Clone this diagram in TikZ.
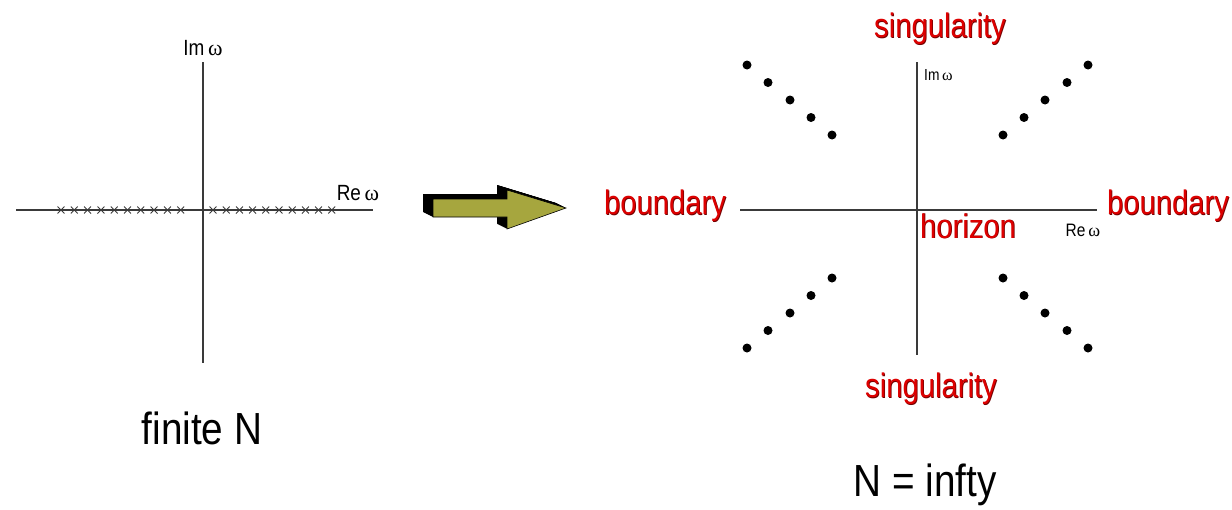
\documentclass[tikz,border=0pt]{standalone}
\usepackage{fontspec}
\setmainfont[FakeStretch=0.86]{Liberation Sans}
\newfontfamily\omegafont{Liberation Serif}
\usetikzlibrary{shapes.misc}
\definecolor{axisgray}{HTML}{3A3A3A}
\definecolor{olivefill}{HTML}{A6A63E}
\definecolor{redmain}{HTML}{DD0000}
\definecolor{redshadow}{HTML}{700000}
\tikzset{
  axis/.style={draw=axisgray, line width=1.2pt},
  pole/.style={cross out, draw=axisgray, line width=0.9pt, minimum size=6pt, inner sep=0pt},
  qnm/.style={circle, fill=black, inner sep=0pt, minimum size=9pt},
  lbl/.style={inner sep=0pt, text=black},
  bigred/.style={inner sep=0pt, text=redmain, font=\fontsize{34}{36}\selectfont},
  bigredshadow/.style={inner sep=0pt, text=redshadow, font=\fontsize{34}{36}\selectfont},
}
\begin{document}
\begin{tikzpicture}[x=1pt, y=-1pt]
\useasboundingbox (0,0) rectangle (1232,509);
% ---------- left plane ----------
\coordinate (LxL) at (16,210);
\coordinate (LxR) at (373,210);
\coordinate (LyT) at (203,62);
\coordinate (LyB) at (203,363);
\draw[axis] (LxL) -- (LxR);
\draw[axis] (LyT) -- (LyB);
\foreach \i in {0,...,9} {
  \node[pole] (pl\i) at ({61+13.3*\i},210) {};
  \node[pole] (pr\i) at ({213+13.2*\i},210) {};
}
\node[lbl, font=\fontsize{22}{24}\selectfont] (Lim) at (203,48) {Im\,{\omegafont ω}};
\node[lbl, font=\fontsize{22}{24}\selectfont] (Lre) at (358,193) {Re\,{\omegafont ω}};
\node[lbl, font=\fontsize{45}{48}\selectfont] (finN) at (202,428) {finite N};
% ---------- arrow ----------
\foreach \t in {1,0.95,...,0.05} {
  \fill[black, shift={(-10*\t,-5*\t)}]
    (433,199) -- (507,199) -- (507,190) -- (566,208) -- (507,229) -- (507,217) -- (433,217) -- cycle;
}
\filldraw[fill=olivefill, draw=black, line width=0.6pt]
    (433,199) -- (507,199) -- (507,190) -- (566,208) -- (507,229) -- (507,217) -- (433,217) -- cycle;
% ---------- right plane ----------
\coordinate (RxL) at (740,210);
\coordinate (RxR) at (1097,210);
\coordinate (RyT) at (917,62);
\coordinate (RyB) at (917,355);
\draw[axis] (RxL) -- (RxR);
\draw[axis] (RyT) -- (RyB);
\node[lbl, font=\fontsize{16}{17}\selectfont, anchor=west] (Rim) at (924,75) {Im\,{\omegafont ω}};
\node[lbl, font=\fontsize{18}{19}\selectfont] (Rre) at (1083,230) {Re\,{\omegafont ω}};
% dots
\foreach \i/\dx/\dy in {0/0/0,1/21/17.5,2/43/35,3/64/52.5,4/85/70} {
  \node[qnm] (ul\i) at ({747+\dx},{65+\dy}) {};
  \node[qnm] (ur\i) at ({1088-\dx},{65+\dy}) {};
  \node[qnm] (ll\i) at ({747+\dx},{348-\dy}) {};
  \node[qnm] (lr\i) at ({1088-\dx},{348-\dy}) {};
}
% red labels with shadow
\foreach \nm/\px/\py/\txt in {singT/940/29/singularity, singB/931/389/singularity, bndL/665/206/boundary, bndR/1168/206/boundary, hor/968/226/horizon} {
  \node[bigredshadow] (\nm s) at (\px+0.8,\py+0.8) {\txt};
  \node[bigred] (\nm) at (\px,\py) {\txt};
}
\node[lbl, font=\fontsize{45}{48}\selectfont] (infN) at (925,485) {N = infty};
\end{tikzpicture}
\end{document}
